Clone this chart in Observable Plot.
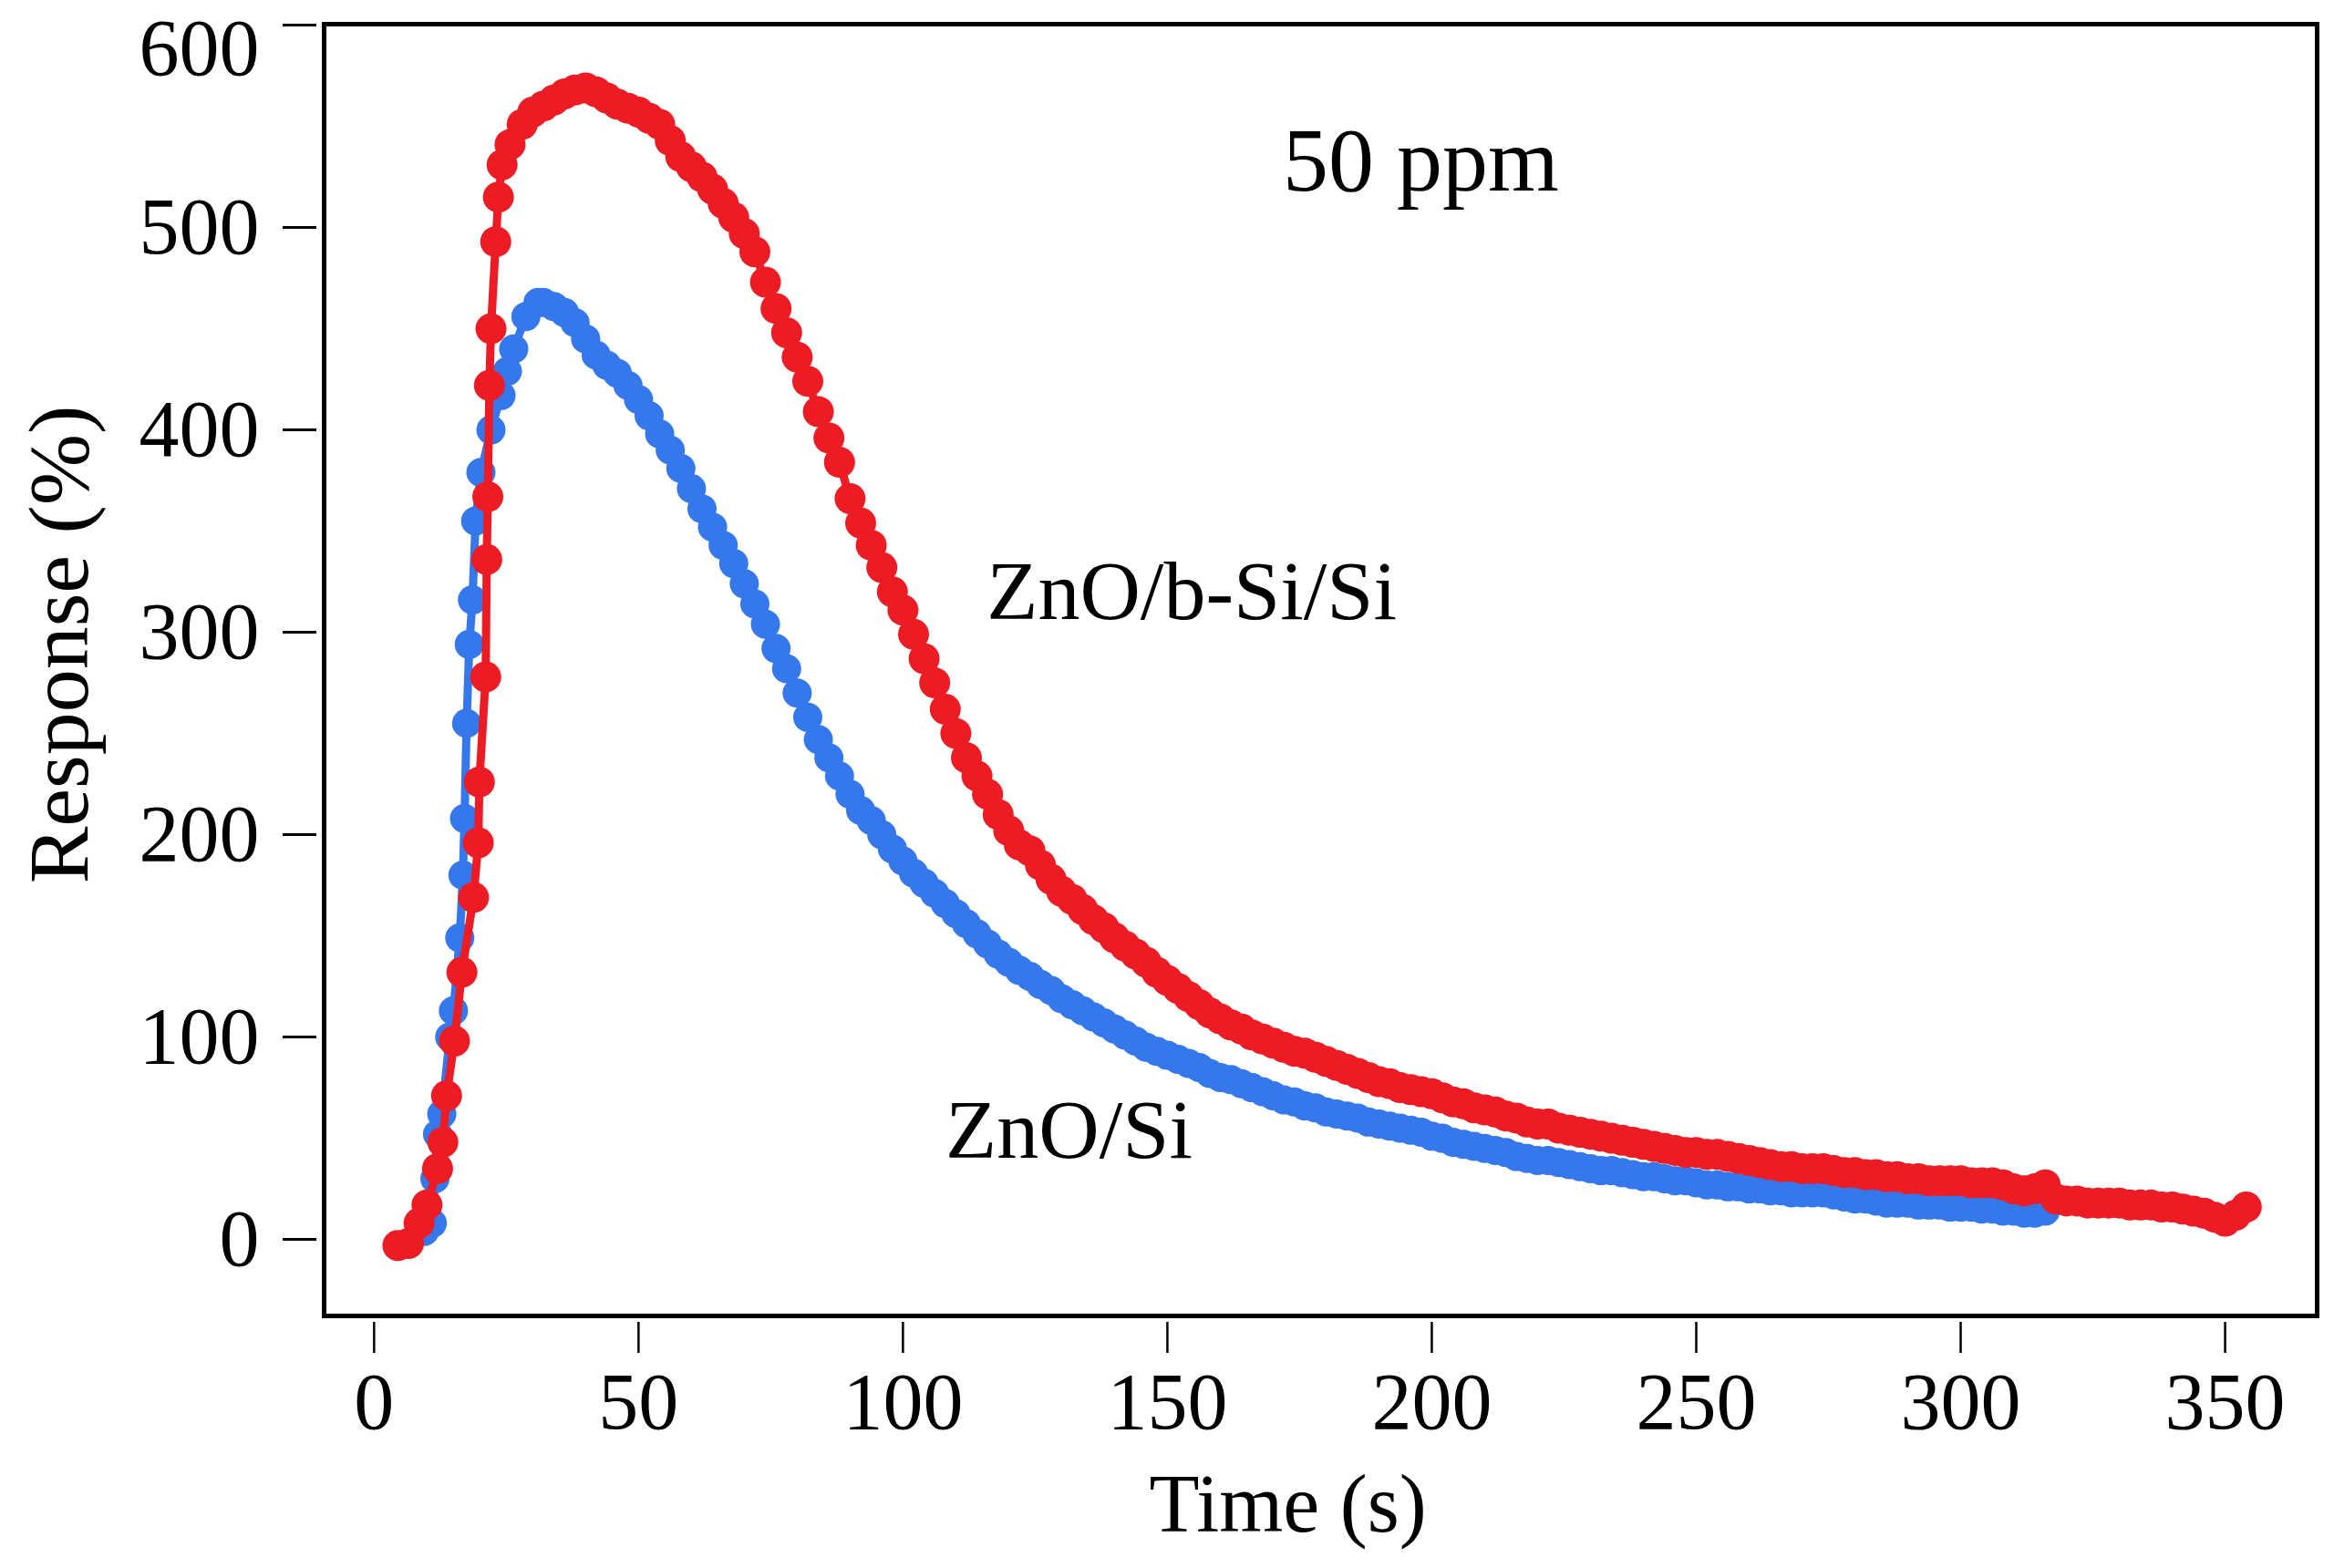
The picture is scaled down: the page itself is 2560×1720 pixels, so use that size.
<!DOCTYPE html>
<html>
<head>
<meta charset="utf-8">
<script src="https://cdn.jsdelivr.net/npm/d3@7"></script>
<script src="https://cdn.jsdelivr.net/npm/@observablehq/plot@0.6"></script>
<style>
  body { margin: 0; background: white; }
</style>
</head>
<body>
<div id="chart"></div>
<script>
// ZnO/Si (blue) : time (s) and response (%)
const znoSiTime = [9.5, 11, 11.5, 12, 12.8, 14.3, 15, 16.2, 16.8, 17.1, 17.5, 18, 18.6, 19.2, 20.2, 22.1, 24, 25.2, 26.4, 28.7, 31,
  32, 34, 36, 38, 40, 42, 44, 46, 48, 50, 52, 54, 56, 58, 60, 62, 64, 66, 68, 70,
  72, 74, 76, 78, 80, 82, 84, 86, 88, 90, 92, 94, 96, 98, 100, 102, 104, 106, 108, 110,
  112, 114, 116, 118, 120, 122, 124, 126, 128, 130, 132, 134, 136, 138, 140, 142, 144, 146, 148, 150,
  152, 154, 156, 158, 160, 162, 164, 166, 168, 170, 172, 174, 176, 178, 180, 182, 184, 186, 188, 190,
  192, 194, 196, 198, 200, 202, 204, 206, 208, 210, 212, 214, 216, 218, 220, 222, 224, 226, 228, 230,
  232, 234, 236, 238, 240, 242, 244, 246, 248, 250, 252, 254, 256, 258, 260, 262, 264, 266, 268, 270,
  272, 274, 276, 278, 280, 282, 284, 286, 288, 290, 292, 294, 296, 298, 300, 302, 304, 306, 308, 310,
  312, 314, 316];
const znoSiResp = [4, 8, 30, 52, 62, 100, 113, 149, 180, 208, 255, 294, 316, 355, 379, 400, 417, 429, 440, 456, 463,
  463, 461, 458, 453, 445, 437, 432, 428, 422, 415, 407, 398, 390, 381, 371, 361, 352, 343, 334, 324,
  314, 304, 292, 282, 270, 258, 247, 238, 229, 220, 212, 207, 200, 193, 187, 181, 176, 171, 166, 161,
  156, 151, 146, 141, 137, 133, 130, 126, 123, 119, 116, 113, 110, 107, 104, 101, 98, 95, 93, 91,
  89, 87, 85, 82, 80, 79, 77, 75, 73, 71, 69, 68, 66, 65, 63, 62, 61, 60, 58, 57,
  56, 55, 54, 53, 51, 50, 48, 47, 46, 45, 44, 43, 41, 40, 39, 39, 38, 37, 36, 35,
  34, 34, 33, 32, 31, 31, 30, 29, 29, 28, 27, 27, 26, 26, 25, 25, 24, 24, 23, 23,
  23, 23, 22, 21, 20, 20, 19, 18, 18, 18, 17, 17, 17, 16, 16, 16, 15, 15, 14, 14,
  13, 13, 14];

// ZnO/b-Si/Si (red)
const znoBSiTime = [4.5, 6.5, 8.5, 10, 12, 13, 13.7, 15.2, 16.6, 18.8, 19.7, 19.9, 21.1, 21.3, 21.5, 21.8, 22.1, 23, 23.5, 24.2, 25.7, 28,
  30, 32, 34, 36, 38, 40, 42, 44, 46, 48, 50, 52, 54, 56, 58, 60, 62, 64, 66, 68,
  70, 72, 74, 76, 78, 80, 82, 84, 86, 88, 90, 92, 94, 96, 98, 100, 102, 104, 106, 108,
  110, 112, 114, 116, 118, 120, 122, 124, 126, 128, 130, 132, 134, 136, 138, 140, 142, 144, 146, 148,
  150, 152, 154, 156, 158, 160, 162, 164, 166, 168, 170, 172, 174, 176, 178, 180, 182, 184, 186, 188,
  190, 192, 194, 196, 198, 200, 202, 204, 206, 208, 210, 212, 214, 216, 218, 220, 222, 224, 226, 228,
  230, 232, 234, 236, 238, 240, 242, 244, 246, 248, 250, 252, 254, 256, 258, 260, 262, 264, 266, 268,
  270, 272, 274, 276, 278, 280, 282, 284, 286, 288, 290, 292, 294, 296, 298, 300, 302, 304, 306, 308,
  310, 312, 314, 316, 318, 320, 322, 324, 326, 328, 330, 332, 334, 336, 338, 340, 342, 344, 346, 348,
  350, 352, 354];
const znoBSiResp = [-3, -2, 8, 17, 35, 48, 71, 98, 132, 169, 196, 226, 278, 336, 367, 422, 450, 493, 515, 531, 541, 551,
  557, 560, 563, 566, 568, 569, 567, 564, 561, 559, 557, 554, 551, 543, 535, 530, 525, 519, 512, 505,
  497, 488, 473, 460, 448, 436, 424, 409, 396, 384, 366, 354, 343, 332, 320, 311, 299, 287, 275, 262,
  250, 238, 229, 220, 210, 202, 195, 192, 185, 178, 172, 168, 163, 158, 154, 149, 145, 141, 137, 132,
  128, 124, 120, 116, 112, 109, 106, 104, 101, 99, 97, 95, 93, 92, 90, 88, 86, 84, 82, 80,
  78, 77, 75, 74, 73, 72, 70, 68, 67, 65, 64, 63, 61, 60, 58, 57, 57, 55, 54, 53,
  52, 51, 50, 49, 48, 47, 46, 45, 44, 43, 43, 42, 42, 41, 40, 39, 38, 37, 36, 36,
  35, 35, 35, 34, 33, 33, 32, 32, 31, 31, 30, 30, 29, 29, 29, 29, 28, 28, 28, 27,
  25, 24, 25, 27, 20, 19, 19, 18, 18, 18, 18, 17, 17, 17, 16, 16, 15, 14, 13, 11,
  9, 12, 16];

const xTicks = [0, 50, 100, 150, 200, 250, 300, 350];
const yTicks = [0, 100, 200, 300, 400, 500, 600];

const labelText = ["50 ppm", "ZnO/b-Si/Si", "ZnO/Si"];
const labelTime = [197.9, 154.6, 131.4];
const labelResp = [532.6, 320, 53.5];

const blue = "#3578eb";
const red = "#ed1c24";

const znoSi = znoSiTime.map((t, i) => ({t, v: znoSiResp[i]}));
const znoBSi = znoBSiTime.map((t, i) => ({t, v: znoBSiResp[i]}));
const labels = labelText.map((s, i) => ({s, t: labelTime[i], v: labelResp[i]}));

// top label sits lower than its tick in the original, like it was pushed inside the picture
const topTick = yTicks[yTicks.length - 1];

const chart = Plot.plot({
  width: 2560,
  height: 1720,
  marginLeft: 355,
  marginRight: 19,
  marginTop: 26,
  marginBottom: 277,
  style: {
    fontFamily: "'Liberation Serif', 'Times New Roman', serif",
    fontSize: "88px",
    color: "black",
    background: "white"
  },
  x: {domain: [-9.45, 367.4]},
  y: {domain: [-37.8, 600.5]},
  marks: [
    Plot.axisX({ticks: xTicks, tickSize: 34, tickPadding: 20, dy: 7, fontSize: 88, label: null, strokeWidth: 2.5}),
    Plot.axisY({ticks: yTicks, tickSize: 37, tickPadding: 26, dx: -8, fontSize: 88, label: null, strokeWidth: 3,
      tickFormat: d => d === topTick ? "" : d}),
    Plot.axisY({ticks: [topTick], tickSize: 0, tickPadding: 63, dx: -8, dy: 26, fontSize: 88, label: null}),
    Plot.line(znoSi, {x: "t", y: "v", stroke: blue, strokeWidth: 9}),
    Plot.dot(znoSi, {x: "t", y: "v", r: 16, fill: blue}),
    Plot.line(znoBSi, {x: "t", y: "v", stroke: red, strokeWidth: 9}),
    Plot.dot(znoBSi, {x: "t", y: "v", r: 17, fill: red}),
    Plot.frame({stroke: "black", strokeWidth: 5}),
    Plot.text(labels.slice(0, 1), {x: "t", y: "v", text: "s", fontSize: 100}),
    Plot.text(labels.slice(1), {x: "t", y: "v", text: "s", fontSize: 92}),
    Plot.text(["Time (s)"], {frameAnchor: "bottom", lineAnchor: "middle", textAnchor: "middle", dx: -36, dy: 208, fontSize: 90}),
    Plot.text(["Response (%)"], {frameAnchor: "left", lineAnchor: "middle", textAnchor: "middle", rotate: -90, dx: -290, dy: -28, fontSize: 94})
  ]
});

document.querySelector("#chart").append(chart);
</script>
</body>
</html>
